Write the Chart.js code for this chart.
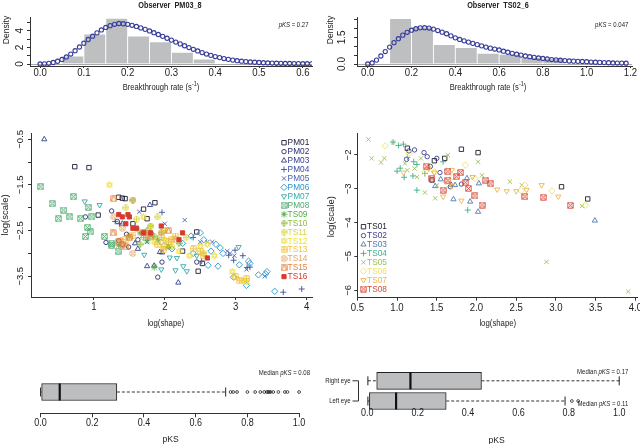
<!DOCTYPE html>
<html>
<head>
<meta charset="utf-8">
<title>Breakthrough rate fits</title>
<script src="https://cdn.jsdelivr.net/npm/chart.js@4.4.1/dist/chart.umd.min.js"></script>
<style>
  html, body { margin: 0; padding: 0; background: #fff; }
  body { position: relative; width: 640px; height: 444px; overflow: hidden; }
  canvas { position: absolute; }
</style>
</head>
<body>
<canvas id="histA" width="320" height="95" style="left:0;top:0"></canvas>
<canvas id="histB" width="320" height="95" style="left:320px;top:0"></canvas>
<canvas id="scatterA" width="320" height="240" style="left:0;top:100px"></canvas>
<canvas id="scatterB" width="330" height="240" style="left:320px;top:100px"></canvas>
<canvas id="boxA" width="320" height="84" style="left:0;top:360px"></canvas>
<canvas id="boxB" width="320" height="84" style="left:320px;top:360px"></canvas>
<script>
// ---------- top histograms ----------
const histABinCentres = [0.025, 0.075, 0.125, 0.175, 0.225, 0.275, 0.325, 0.375];
const histADensity = [0, 0.96, 3.61, 5.5, 3.37, 2.69, 1.41, 0.6];
const curveAStep = 0.01;
const curveADensity = [0.00, 0.02, 0.08, 0.18, 0.33, 0.55, 0.85, 1.20, 1.60, 2.05, 2.50, 2.95, 3.35, 3.75, 4.10, 4.40,
  4.62, 4.78, 4.88, 4.85, 4.78, 4.66, 4.52, 4.35, 4.17, 3.98, 3.77, 3.55, 3.33, 3.10, 2.88, 2.64, 2.42, 2.20, 1.98,
  1.77, 1.57, 1.38, 1.20, 1.04, 0.90, 0.77, 0.66, 0.56, 0.47, 0.40, 0.34, 0.29, 0.25, 0.21, 0.18, 0.15, 0.13, 0.11,
  0.09, 0.08, 0.07, 0.06, 0.05, 0.04, 0.035, 0.03, 0.025];
const histAXTicks = [0, 0.1, 0.2, 0.3, 0.4, 0.5, 0.6];
const histAXLabels = ['0.0', '0.1', '0.2', '0.3', '0.4', '0.5', '0.6'];
const histAYTicks = [0, 1, 2, 3, 4, 5];
const histAYLabels = ['0', '', '2', '', '4', ''];

const histBBinCentres = [0.05, 0.15, 0.25, 0.35, 0.45, 0.55, 0.65, 0.75, 0.85];
const histBDensity = [0, 2.55, 2.07, 1.1, 0.93, 0.6, 0.54, 0.38, 0.32];
const curveBStep = 0.02;
const curveBDensity = [0.00, 0.06, 0.22, 0.45, 0.70, 0.95, 1.20, 1.42, 1.62, 1.78, 1.90, 1.98, 2.03, 2.04, 2.02, 1.96,
  1.88, 1.79, 1.70, 1.58, 1.47, 1.38, 1.30, 1.23, 1.16, 1.09, 1.02, 0.95, 0.89, 0.84, 0.79, 0.72, 0.66, 0.60, 0.55,
  0.50, 0.45, 0.41, 0.37, 0.34, 0.31, 0.28, 0.25, 0.23, 0.21, 0.19, 0.17, 0.16, 0.15, 0.14, 0.13, 0.11, 0.10, 0.09,
  0.08, 0.07, 0.06, 0.055, 0.05, 0.045];
const histBXTicks = [0, 0.2, 0.4, 0.6, 0.8, 1.0, 1.2];
const histBXLabels = ['0.0', '0.2', '0.4', '0.6', '0.8', '1.0', '1.2'];
const histBYTicks = [0, 0.5, 1, 1.5, 2, 2.5];
const histBYLabels = ['0.0', '', '', '1.5', '', ''];

// ---------- scatter, all observers: [log(shape), log(scale)] ----------
const leftNames = ['PM01', 'PM02', 'PM03', 'PM04', 'PM05', 'PM06', 'PM07', 'PM08',
  'TS09', 'TS10', 'TS11', 'TS12', 'TS13', 'TS14', 'TS15', 'TS16'];
const leftColors = ['#1c1c3a', '#2a2f6e', '#343f8c', '#3a4fa0', '#4862b2', '#2c96c9', '#36a9a9', '#4caa6c',
  '#52ae48', '#8cbc3c', '#d9d63a', '#f1df34', '#f1c138', '#e6a25c', '#e4823f', '#d63a2e'];
const PM01 = [[0.73, -1.10], [0.93, -1.12], [1.06, -2.16], [1.35, -1.77], [1.40, -1.79], [1.44, -1.80], [1.86, -1.89],
  [1.70, -2.03], [1.75, -2.24], [2.45, -2.53], [2.47, -3.39], [2.53, -3.22], [1.55, -2.35], [2.25, -2.95]];
const PM02 = [[0.88, -2.20], [1.25, -2.07], [1.17, -2.76], [1.49, -2.86], [1.90, -3.52], [1.96, -3.19], [2.45, -3.19],
  [1.46, -2.58], [1.35, -2.72], [1.40, -2.80], [1.62, -2.70], [1.33, -2.30]];
const PM03 = [[0.30, -0.50], [2.19, -3.64], [1.75, -3.28], [1.85, -3.27], [1.93, -2.97], [1.96, -2.98], [1.58, -2.78],
  [1.79, -1.94], [1.62, -2.90], [1.40, -2.35], [2.05, -2.85]];
const PM04 = [[1.96, -2.10], [1.30, -2.30], [1.36, -2.35], [3.67, -3.85], [3.93, -3.78], [2.90, -3.04], [2.99, -2.93],
  [2.97, -3.15], [3.16, -3.31], [3.20, -3.30], [2.52, -3.17], [2.40, -2.65], [1.80, -2.55], [3.10, -3.05]];
const PM05 = [[2.28, -2.27], [2.00, -2.35], [1.64, -2.09], [2.50, -2.75], [2.60, -2.75], [2.67, -2.75], [2.92, -3.00],
  [3.41, -3.50], [2.88, -2.95], [2.98, -3.05], [1.75, -2.75], [3.15, -3.35]];
const PM06 = [[2.37, -2.62], [2.50, -2.55], [2.55, -2.70], [2.65, -2.95], [2.72, -2.80], [2.78, -2.88], [2.82, -3.00],
  [3.55, -3.83], [3.15, -3.70], [2.97, -3.52], [3.32, -3.47], [3.44, -3.40], [3.42, -3.45], [2.75, -3.28],
  [2.61, -3.26], [3.18, -3.17], [3.20, -3.22], [2.40, -3.00], [2.25, -2.78], [2.10, -2.90], [1.95, -2.75], [3.05, -3.25]];
const PM07 = [[0.87, -1.86], [1.08, -1.94], [2.07, -3.09], [2.17, -3.10], [2.15, -3.37], [2.31, -3.39], [2.26, -3.28],
  [3.04, -2.86], [1.71, -3.03], [1.95, -3.35], [2.45, -3.05]];
const PM08 = [[0.25, -1.54], [0.71, -1.76], [0.41, -1.91], [0.57, -2.05], [0.92, -1.99], [0.50, -2.24], [0.66, -2.20],
  [0.81, -2.24], [0.91, -2.43], [0.95, -2.53], [0.88, -2.63], [1.15, -2.63], [1.25, -2.82], [1.34, -2.95],
  [0.97, -2.20], [1.25, -2.78]];
const TS09 = [[1.35, -2.82], [1.75, -2.72], [1.80, -2.60], [1.90, -2.70], [1.65, -2.55], [2.05, -2.85], [1.50, -2.62],
  [1.85, -3.30]];
const TS10 = [[1.70, -2.65], [1.75, -2.50], [1.85, -2.62], [1.95, -2.55], [1.55, -1.83], [2.20, -2.78], [1.65, -2.80],
  [1.80, -2.40]];
const TS11 = [[1.60, -2.25], [1.80, -2.40], [2.00, -2.50], [2.30, -2.65], [2.55, -3.00], [1.45, -2.00], [2.10, -2.85],
  [1.90, -2.20]];
const TS12 = [[1.22, -1.50], [1.70, -2.20], [2.00, -2.70], [2.50, -2.85], [2.70, -3.05], [3.10, -3.60], [3.15, -3.62],
  [2.35, -3.05], [2.20, -2.95], [1.85, -2.75], [2.95, -3.40], [2.60, -2.80]];
const TS13 = [[1.95, -2.65], [2.05, -2.75], [2.00, -2.85], [1.90, -2.80], [2.10, -2.70], [3.00, -3.50], [3.05, -3.60],
  [3.15, -3.55], [2.50, -2.95], [2.55, -3.05], [2.40, -2.90], [1.55, -2.60], [1.45, -2.70], [2.15, -2.62], [1.98, -2.92]];
const TS14 = [[1.55, -1.83], [1.28, -2.20], [1.40, -2.45], [1.60, -2.45], [1.55, -3.00], [1.95, -2.55], [2.15, -2.70],
  [1.75, -2.60], [1.38, -2.72]];
const TS15 = [[1.28, -1.80], [1.27, -2.55], [1.35, -2.75], [1.40, -2.80], [1.50, -2.65], [1.70, -2.55], [2.05, -2.50],
  [1.80, -2.62], [1.45, -2.85]];
const TS16 = [[1.35, -2.15], [1.40, -2.20], [1.45, -2.35], [1.50, -2.20], [1.60, -2.45], [1.80, -2.55], [1.95, -2.40],
  [2.20, -2.70], [2.25, -2.55], [2.60, -3.10], [1.70, -2.55], [1.55, -2.45], [1.48, -2.15]];
const leftSeries = [PM01, PM02, PM03, PM04, PM05, PM06, PM07, PM08, TS09, TS10, TS11, TS12, TS13, TS14, TS15, TS16];
const leftXTicks = [1, 2, 3, 4];
const leftXLabels = ['1', '2', '3', '4'];
const leftYTicks = [-0.5, -1, -1.5, -2, -2.5, -3, -3.5];
const leftYLabels = ['\u22120.5', '', '\u22121.5', '', '\u22122.5', '', '\u22123.5'];

// ---------- scatter, second observer group ----------
const rightNames = ['TS01', 'TS02', 'TS03', 'TS04', 'TS05', 'TS06', 'TS07', 'TS08'];
const rightColors = ['#1e1e2e', '#3b3f8f', '#4d79b3', '#3fae8a', '#99c255', '#f1e06a', '#efb449', '#d9493a'];
const TS01 = [[1.13, -1.80], [1.81, -1.83], [2.02, -1.93], [1.47, -2.17], [1.44, -2.74], [3.07, -2.94], [3.40, -3.30],
  [1.60, -2.10]];
const TS02 = [[1.22, -1.85], [1.34, -1.93], [1.15, -1.88], [1.12, -2.13], [1.42, -2.34], [1.54, -2.52], [1.67, -2.94],
  [1.81, -2.86], [1.50, -2.10], [1.38, -2.05]];
const TS03 = [[1.55, -2.72], [1.73, -2.89], [1.88, -2.69], [2.03, -2.84], [1.71, -3.31], [1.92, -3.38], [2.02, -3.68],
  [3.49, -3.94], [1.48, -2.92], [1.68, -2.88]];
const TS04 = [[0.95, -1.62], [1.02, -1.72], [1.08, -1.68], [1.13, -2.07], [1.04, -2.39], [1.09, -2.66], [1.25, -3.04],
  [1.20, -2.62], [1.21, -2.20], [1.58, -2.20], [1.35, -2.55], [1.89, -3.63], [1.25, -2.28], [1.00, -2.48]];
const TS05 = [[0.64, -1.54], [0.68, -2.10], [0.80, -2.22], [0.84, -2.10], [0.95, -1.63], [1.64, -2.00], [2.02, -2.20],
  [2.07, -2.60], [2.42, -2.79], [2.57, -2.89], [2.88, -5.16], [3.91, -6.04], [3.33, -3.51], [1.48, -3.28],
  [1.35, -3.11], [1.25, -2.65], [1.13, -2.45], [1.22, -2.40], [1.50, -2.90], [1.10, -2.25], [1.30, -2.10]];
const TS06 = [[0.85, -1.73], [1.35, -2.49], [1.47, -2.50], [1.86, -2.30], [1.98, -2.69], [2.61, -2.89], [2.95, -3.06],
  [3.37, -3.48], [2.56, -3.05], [1.70, -2.65], [1.62, -2.80], [1.15, -1.95]];
const TS07 = [[1.08, -2.52], [1.40, -2.40], [1.69, -2.44], [1.58, -3.23], [1.81, -3.35], [1.95, -2.65], [2.26, -3.02],
  [2.38, -3.07], [2.50, -3.07], [2.63, -3.03], [2.82, -2.89], [3.03, -3.23], [1.69, -2.92], [1.47, -2.52]];
const TS08 = [[1.37, -2.33], [1.44, -2.69], [1.58, -3.04], [1.64, -2.49], [1.64, -2.75], [1.75, -2.64], [1.80, -2.52],
  [1.86, -2.82], [1.90, -2.99], [1.98, -3.21], [2.07, -3.48], [2.11, -2.74], [2.18, -2.85], [2.61, -3.23],
  [2.84, -3.25], [3.18, -3.49]];
const rightSeries = [TS01, TS02, TS03, TS04, TS05, TS06, TS07, TS08];
const rightXTicks = [0.5, 1, 1.5, 2, 2.5, 3, 3.5, 4];
const rightXLabels = ['0.5', '1.0', '1.5', '2.0', '2.5', '3.0', '3.5', '4.0'];
const rightYTicks = [-2, -3, -4, -5, -6];
const rightYLabels = ['\u22122', '\u22123', '\u22124', '\u22125', '\u22126'];

// ---------- pKS box plots: [lower whisker, Q1, median, Q3, upper whisker] ----------
const pksAll = [0.0, 0.004, 0.074, 0.295, 0.716];
const pksAllOutliers = [0.735, 0.745, 0.76, 0.80, 0.83, 0.85, 0.865, 0.875, 0.88, 0.885, 0.89, 0.90, 0.92, 0.945, 0.955, 1.0];
const eyeLabels = ['Right eye', 'Left eye'];
const pksRightEye = [0.002, 0.037, 0.171, 0.453, 1.0];
const pksLeftEye = [0.002, 0.008, 0.114, 0.313, 0.785];
const pksLeftEyeOutliers = [0.812, 0.837];
const pksTicks = [0, 0.2, 0.4, 0.6, 0.8, 1.0];
const pksLabels = ['0.0', '0.2', '0.4', '0.6', '0.8', '1.0'];

// ---------- helpers ----------
const fontFamily = "'Liberation Sans', Arial, Helvetica, sans-serif";
const STRETCH = 1.15; // the source figure's lettering is a little taller than wide
Chart.defaults.font.family = fontFamily;
Chart.defaults.font.size = 9.5;
Chart.defaults.color = '#222';
Chart.defaults.animation = false;
Chart.defaults.events = [];
Chart.defaults.plugins.legend.display = false;
Chart.defaults.plugins.tooltip.enabled = false;

function drawText(ctx, t) {
  const size = t.size || 9;
  const fontFor = (kind, sz) => (kind === 'i' ? 'italic ' : '') + (t.bold ? 'bold ' : '') + sz + 'px ' + fontFamily;
  const parts = t.parts.map(([s, kind]) => {
    const sz = kind === 'sup' ? size * 0.72 : size;
    ctx.font = fontFor(kind, sz);
    return { s, kind, sz, w: ctx.measureText(s).width };
  });
  const total = parts.reduce((a, p) => a + p.w, 0);
  ctx.save();
  ctx.translate(t.x, t.y);
  if (t.rot) ctx.rotate(t.rot * Math.PI / 180);
  else ctx.scale(1, STRETCH);
  let x = t.align === 'right' ? -total : t.align === 'left' ? 0 : -total / 2;
  ctx.fillStyle = t.color || '#222';
  ctx.textBaseline = 'middle';
  ctx.textAlign = 'left';
  parts.forEach(p => {
    ctx.font = fontFor(p.kind, p.sz);
    ctx.fillText(p.s, x, p.kind === 'sup' ? -size * 0.38 : 0);
    x += p.w;
  });
  ctx.restore();
}

// R plotting symbols 7..14 have no Chart.js equivalent, so draw them on tiny canvases
function pchCanvas(pch, color) {
  const c = document.createElement('canvas');
  c.width = 7; c.height = 7;
  const g = c.getContext('2d');
  g.strokeStyle = color;
  g.lineWidth = 0.9;
  const a = 0.8, b = 6.2, m = 3.5;
  g.beginPath();
  if (pch === 7 || pch === 12 || pch === 14) g.rect(a, a, b - a, b - a);
  if (pch === 10 || pch === 13) { g.moveTo(m + 2.8, m); g.arc(m, m, 2.8, 0, Math.PI * 2); }
  if (pch === 9) { g.moveTo(m, 0.2); g.lineTo(6.8, m); g.lineTo(m, 6.8); g.lineTo(0.2, m); g.closePath(); }
  if (pch === 7 || pch === 8) { g.moveTo(a, a); g.lineTo(b, b); g.moveTo(b, a); g.lineTo(a, b); }
  if (pch === 13) { g.moveTo(1.5, 1.5); g.lineTo(5.5, 5.5); g.moveTo(5.5, 1.5); g.lineTo(1.5, 5.5); }
  if (pch === 8 || pch === 9 || pch === 10 || pch === 12) { g.moveTo(m, 0.4); g.lineTo(m, 6.6); g.moveTo(0.4, m); g.lineTo(6.6, m); }
  if (pch === 11) {
    g.moveTo(m, 0.5); g.lineTo(6.3, 5.2); g.lineTo(0.7, 5.2); g.closePath();
    g.moveTo(m, 6.5); g.lineTo(6.3, 1.8); g.lineTo(0.7, 1.8); g.closePath();
  }
  if (pch === 14) { g.moveTo(a, b); g.lineTo(m, a); g.lineTo(b, b); }
  g.stroke();
  return c;
}

function pchStyle(pch, color) {
  const open = { backgroundColor: 'rgba(0,0,0,0)', borderColor: color, borderWidth: 0.9, rotation: 0 };
  switch (pch) {
    case 0: return { ...open, pointStyle: 'rect', radius: 3.1 };
    case 1: return { ...open, pointStyle: 'circle', radius: 2.2 };
    case 2: return { ...open, pointStyle: 'triangle', radius: 3 };
    case 3: return { ...open, pointStyle: 'cross', radius: 3 };
    case 4: return { ...open, pointStyle: 'crossRot', radius: 3 };
    case 5: return { ...open, pointStyle: 'rectRot', radius: 3.2 };
    case 6: return { ...open, pointStyle: 'triangle', radius: 3, rotation: 180 };
    case 15: return { ...open, backgroundColor: color, pointStyle: 'rect', radius: 3 };
    default: return { ...open, pointStyle: pchCanvas(pch, color), radius: 3.5 };
  }
}

// R-like axis: explicit ticks, outward tick marks; labels are drawn by the rDecor plugin
function axis(o) {
  return {
    type: 'linear',
    min: o.min,
    max: o.max,
    offset: false,
    beginAtZero: false,
    afterBuildTicks: s => { s.ticks = o.ticks.map(v => ({ value: v })); },
    afterFit: s => {
      if (s.isHorizontal()) s.height = o.size; else s.width = o.size;
    },
    border: { display: o.border !== false, color: '#333', width: 1 },
    grid: {
      display: true,
      offset: false,
      drawOnChartArea: !!o.zeroLine,
      color: o.zeroLine ? (c => (c.tick && c.tick.value === 0 ? '#a9a9a9' : 'rgba(0,0,0,0)')) : 'rgba(0,0,0,0)',
      drawTicks: (o.tickLen || 0) > 0,
      tickLength: o.tickLen || 0,
      tickColor: '#333',
      tickWidth: 1
    },
    ticks: { display: false }
  };
}
const hiddenAxis = (min, max) => ({ type: 'linear', display: false, offset: false, beginAtZero: false, min, max, grid: { offset: false } });

// extra R-style decoration per canvas: tick labels, texts, legends
const decor = {};
Chart.register({
  id: 'rDecor',
  afterDraw(chart) {
    const d = decor[chart.canvas.id];
    if (!d) return;
    const ctx = chart.ctx;
    const area = chart.chartArea;
    ctx.save();
    ctx.strokeStyle = '#333';
    ctx.lineWidth = 1;
    if (d.xLine) {
      const xs = chart.scales.x;
      const y = Math.round(area.bottom) + 0.5;
      ctx.beginPath();
      ctx.moveTo(xs.getPixelForValue(d.xLine[0]), y);
      ctx.lineTo(xs.getPixelForValue(d.xLine[1]), y);
      ctx.stroke();
    }
    if (d.xLabels) {
      const xs = chart.scales.x;
      d.xLabels.values.forEach((v, i) => {
        drawText(ctx, { x: xs.getPixelForValue(v), y: d.xLabels.y, size: d.xLabels.size, parts: [[d.xLabels.labels[i]]] });
      });
    }
    if (d.yLabels) {
      const ys = chart.scales.y;
      d.yLabels.values.forEach((v, i) => {
        if (!d.yLabels.labels[i]) return;
        drawText(ctx, { x: d.yLabels.x, y: ys.getPixelForValue(v), rot: -90, size: d.yLabels.size, parts: [[d.yLabels.labels[i]]] });
      });
    }
    if (d.yCats) {
      const ys = chart.scales.y;
      const x = Math.round(area.left) + 1.5;
      const pys = d.yCats.values.map(v => ys.getPixelForValue(v));
      ctx.beginPath();
      ctx.moveTo(x, pys[0]);
      ctx.lineTo(x, pys[pys.length - 1]);
      pys.forEach(py => { ctx.moveTo(x - 6, py); ctx.lineTo(x, py); });
      ctx.stroke();
      pys.forEach((py, i) => drawText(ctx, { x: x - 8, y: py, size: d.yCats.size, align: 'right', parts: [[d.yCats.labels[i]]] }));
    }
    if (d.legend && Chart.helpers && Chart.helpers.drawPoint) {
      const L = d.legend;
      L.items.forEach((it, i) => {
        const y = L.y + i * L.dy;
        const st = it.style;
        ctx.save();
        ctx.fillStyle = st.backgroundColor;
        ctx.strokeStyle = st.borderColor;
        ctx.lineWidth = st.borderWidth;
        Chart.helpers.drawPoint(ctx, { pointStyle: st.pointStyle, rotation: st.rotation, radius: st.radius, borderWidth: st.borderWidth }, L.x, y);
        ctx.restore();
        drawText(ctx, { x: L.x + L.gap, y: y, size: L.size, align: 'left', color: st.borderColor, parts: [[it.label]] });
      });
    }
    (d.texts || []).forEach(t => drawText(ctx, t));
    ctx.restore();
  }
});

const curveStyle = {
  type: 'line', showLine: false, pointStyle: 'circle', pointRadius: 2.1,
  pointBackgroundColor: 'rgba(0,0,0,0)', pointBorderColor: '#383d9b', pointBorderWidth: 1.1, order: 0
};
const histStyle = {
  type: 'bar', backgroundColor: '#bdbfc1', borderColor: '#ffffff', borderWidth: 0.8,
  barPercentage: 1, categoryPercentage: 1, order: 1
};

// ---------- histogram A ----------
decor.histA = {
  xLabels: { values: histAXTicks, labels: histAXLabels, y: 73.3, size: 9.6 },
  yLabels: { x: 20, size: 10, values: histAYTicks, labels: histAYLabels },
  texts: [
    { x: 170, y: 5.5, size: 7.3, bold: true, parts: [['Observer  PM03_8']] },
    { x: 308.5, y: 25, size: 6, align: 'right', parts: [['pKS', 'i'], [' = 0.27']] },
    { x: 161, y: 87.3, size: 7.6, parts: [['Breakthrough rate (s'], ['-1', 'sup'], [')']] },
    { x: 6.5, y: 30, size: 8.5, rot: -90, parts: [['Density']] }
  ]
};
new Chart(document.getElementById('histA'), {
  type: 'bar',
  data: {
    datasets: [
      { ...curveStyle, data: curveADensity.map((y, i) => ({ x: i * curveAStep, y })) },
      { ...histStyle, data: histABinCentres.map((x, i) => ({ x, y: histADensity[i] })) }
    ]
  },
  options: {
    responsive: false,
    layout: { padding: { left: 0, right: 8, top: 17, bottom: 0 } },
    scales: {
      x: axis({ min: -0.023, max: 0.621, ticks: histAXTicks, size: 29, tickLen: 2 }),
      y: axis({ min: -0.24, max: 5.66, ticks: histAYTicks, size: 30, tickLen: 3, zeroLine: true })
    }
  }
});

// ---------- histogram B ----------
decor.histB = {
  xLabels: { values: histBXTicks, labels: histBXLabels, y: 73.3, size: 9.6 },
  yLabels: { x: 22, size: 10, values: histBYTicks, labels: histBYLabels },
  texts: [
    { x: 178, y: 5.5, size: 7.3, bold: true, parts: [['Observer  TS02_6']] },
    { x: 308.3, y: 25, size: 6, align: 'right', parts: [['pKS', 'i'], [' = 0.047']] },
    { x: 168, y: 87.3, size: 7.6, parts: [['Breakthrough rate (s'], ['-1', 'sup'], [')']] },
    { x: 10.5, y: 30, size: 8.5, rot: -90, parts: [['Density']] }
  ]
};
new Chart(document.getElementById('histB'), {
  type: 'bar',
  data: {
    datasets: [
      { ...curveStyle, data: curveBDensity.map((y, i) => ({ x: i * curveBStep, y })) },
      { ...histStyle, data: histBBinCentres.map((x, i) => ({ x, y: histBDensity[i] })) }
    ]
  },
  options: {
    responsive: false,
    layout: { padding: { left: 0, right: 8, top: 17, bottom: 0 } },
    scales: {
      x: axis({ min: -0.049, max: 1.207, ticks: histBXTicks, size: 29, tickLen: 2 }),
      y: axis({ min: -0.112, max: 2.64, ticks: histBYTicks, size: 37, tickLen: 3, zeroLine: true })
    }
  }
});

// ---------- scatter plots ----------
function scatterSets(series, colors, firstPch) {
  return series.map((pts, i) => {
    const st = pchStyle(firstPch + i, colors[i]);
    return {
      type: 'scatter',
      data: pts.map(([x, y]) => ({ x, y })),
      pointStyle: st.pointStyle,
      pointRotation: st.rotation,
      pointRadius: st.radius,
      pointBackgroundColor: st.backgroundColor,
      pointBorderColor: st.borderColor,
      pointBorderWidth: st.borderWidth,
      order: -i
    };
  });
}

decor.scatterA = {
  xLabels: { values: leftXTicks, labels: leftXLabels, y: 207.3, size: 9.6 },
  yLabels: { x: 20, size: 9.5, values: leftYTicks, labels: leftYLabels },
  legend: {
    x: 284, y: 42.7, dy: 8.93, gap: 3.6, size: 8.3,
    items: leftNames.map((n, i) => ({ label: n, style: pchStyle(i, leftColors[i]) }))
  },
  texts: [
    { x: 165.8, y: 223.3, size: 7.8, parts: [['log(shape)']] },
    { x: 5.5, y: 115, size: 9.5, rot: -90, parts: [['log(scale)']] }
  ]
};
new Chart(document.getElementById('scatterA'), {
  type: 'scatter',
  data: { datasets: scatterSets(leftSeries, leftColors, 0) },
  options: {
    responsive: false,
    layout: { padding: { left: 0, right: 8, top: 33, bottom: 0 } },
    scales: {
      x: axis({ min: 0.113, max: 4.075, ticks: leftXTicks, size: 43, tickLen: 3 }),
      y: axis({ min: -3.955, max: -0.362, ticks: leftYTicks, size: 31, tickLen: 3 })
    }
  }
});

decor.scatterB = {
  xLabels: { values: rightXTicks, labels: rightXLabels, y: 208.3, size: 9.6 },
  yLabels: { x: 28, size: 9.5, values: rightYTicks, labels: rightYLabels },
  legend: {
    x: 43.5, y: 126.7, dy: 8.9, gap: 3.6, size: 8.3,
    items: rightNames.map((n, i) => ({ label: n, style: pchStyle(i, rightColors[i]) }))
  },
  texts: [
    { x: 177.8, y: 224, size: 7.8, parts: [['log(shape)']] },
    { x: 11.7, y: 116.7, size: 9.5, rot: -90, parts: [['log(scale)']] }
  ]
};
new Chart(document.getElementById('scatterB'), {
  type: 'scatter',
  data: { datasets: scatterSets(rightSeries, rightColors, 0) },
  options: {
    responsive: false,
    layout: { padding: { left: 0, right: 13, top: 33, bottom: 0 } },
    scales: {
      x: axis({ min: 0.5, max: 4.02, ticks: rightXTicks, size: 42.3, tickLen: 3 }),
      y: axis({ min: -6.22, max: -1.35, ticks: rightYTicks, size: 37.3, tickLen: 3 })
    }
  }
});

// ---------- box plots ----------
function boxSets(stats, row, outliers) {
  const [lo, q1, med, q3, hi] = stats;
  const whisker = { type: 'line', borderColor: '#333', borderWidth: 1, borderDash: [3, 2], pointRadius: 0, order: 4, clip: false };
  const cap = { type: 'scatter', pointStyle: 'line', pointRotation: 90, pointRadius: 4.5, pointBorderColor: '#222', pointBorderWidth: 1, order: 1, clip: false };
  const sets = [
    { ...whisker, data: [{ x: lo, y: row }, { x: q1, y: row }] },
    { ...whisker, data: [{ x: q3, y: row }, { x: hi, y: row }] },
    { ...cap, data: [{ x: lo, y: row }, { x: hi, y: row }] },
    { type: 'scatter', data: [{ x: med, y: row }], pointStyle: 'line', pointRotation: 90, pointRadius: 8.5,
      pointBorderColor: '#111', pointBorderWidth: 2.2, order: 0, clip: false }
  ];
  if (outliers) {
    sets.push({ type: 'scatter', data: outliers.map(x => ({ x, y: row })), pointStyle: 'circle', pointRadius: 1.4,
      pointBackgroundColor: 'rgba(0,0,0,0)', pointBorderColor: '#222', pointBorderWidth: 0.8, order: 0, clip: false });
  }
  return sets;
}
const boxStyle = { type: 'bar', indexAxis: 'y', backgroundColor: '#bcbec0', borderColor: '#222', borderWidth: 1,
  borderSkipped: false, barThickness: 17, order: 5, clip: false };

decor.boxA = {
  xLine: [0, 1],
  xLabels: { values: pksTicks, labels: pksLabels, y: 63.3, size: 9 },
  texts: [
    { x: 170.7, y: 79.3, size: 8.6, parts: [['pKS']] },
    { x: 310, y: 13.3, size: 6, align: 'right', parts: [['Median '], ['pKS', 'i'], [' = 0.08']] }
  ]
};
new Chart(document.getElementById('boxA'), {
  type: 'scatter',
  data: {
    datasets: [
      { ...boxStyle, data: [{ x: [pksAll[1], pksAll[3]], y: 1 }] },
      ...boxSets(pksAll, 1, pksAllOutliers)
    ]
  },
  options: {
    responsive: false,
    layout: { padding: { left: 30, right: 8, top: 6.7, bottom: 0 } },
    scales: {
      x: axis({ min: -0.041, max: 1.0395, ticks: pksTicks, size: 30.7, tickLen: 4, border: false }),
      y: hiddenAxis(0, 2)
    }
  }
});

decor.boxB = {
  xLabels: { values: pksTicks, labels: pksLabels, y: 53.3, size: 9 },
  yCats: { values: [2, 1], labels: eyeLabels, size: 6 },
  texts: [
    { x: 176.7, y: 80, size: 8.6, parts: [['pKS']] },
    { x: 308.3, y: 11.7, size: 6, align: 'right', parts: [['Median '], ['pKS', 'i'], [' = 0.17']] },
    { x: 308.3, y: 44.3, size: 6, align: 'right', parts: [['Median '], ['pKS', 'i'], [' = 0.11']] }
  ]
};
new Chart(document.getElementById('boxB'), {
  type: 'scatter',
  data: {
    datasets: [
      { ...boxStyle, data: [{ x: [pksRightEye[1], pksRightEye[3]], y: 2 }, { x: [pksLeftEye[1], pksLeftEye[3]], y: 1 }] },
      ...boxSets(pksRightEye, 2, null),
      ...boxSets(pksLeftEye, 1, pksLeftEyeOutliers)
    ]
  },
  options: {
    responsive: false,
    layout: { padding: { left: 37.3, right: 1, top: 6.75, bottom: 0 } },
    scales: {
      x: axis({ min: -0.04, max: 1.04, ticks: pksTicks, size: 38.55, tickLen: 0, border: false }),
      y: hiddenAxis(0.78, 2.5)
    }
  }
});
</script>
</body>
</html>
